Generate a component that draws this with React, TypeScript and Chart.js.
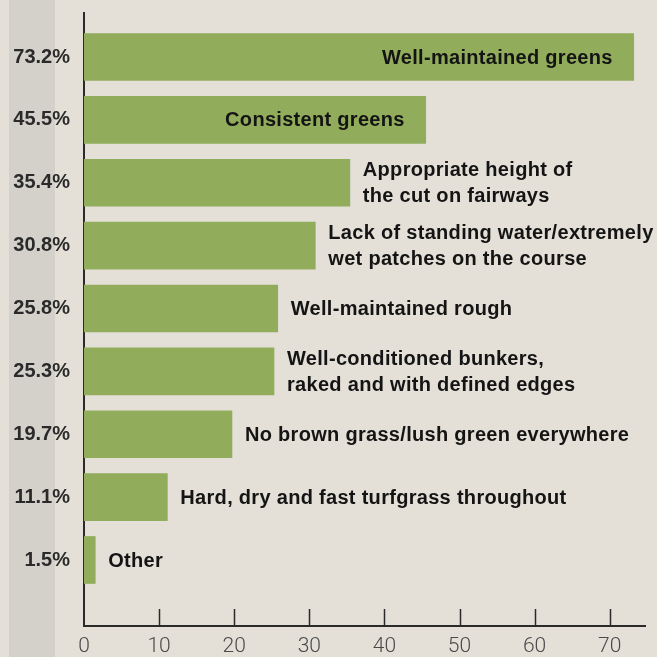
import React, { useEffect, useRef } from "react";
import { Chart, registerables } from "chart.js";

Chart.register(...registerables);

const categories: string[][] = [
  ["Well-maintained greens"],
  ["Consistent greens"],
  ["Appropriate height of", "the cut on fairways"],
  ["Lack of standing water/extremely", "wet patches on the course"],
  ["Well-maintained rough"],
  ["Well-conditioned bunkers,", "raked and with defined edges"],
  ["No brown grass/lush green everywhere"],
  ["Hard, dry and fast turfgrass throughout"],
  ["Other"],
];
const values: number[] = [73.2, 45.5, 35.4, 30.8, 25.8, 25.3, 19.7, 11.1, 1.5];
const percentLabels: string[] = values.map((v) => v.toFixed(1) + "%");
const xTicks: number[] = [0, 10, 20, 30, 40, 50, 60, 70];

const BG = "#e4e0d8";
const GREEN = "#91ad5b";
const AXIS = "#2a2a2a";
const LABEL_FONT = "bold 20px 'Liberation Sans', Arial, sans-serif";

const backgroundPlugin = {
  id: "bgPlugin",
  beforeDraw(chart: any) {
    const { ctx, width, height } = chart;
    ctx.save();
    ctx.fillStyle = BG;
    ctx.fillRect(0, 0, width, height);
    ctx.fillStyle = "#d4d1cb";
    ctx.fillRect(9, 0, 46, height);
    ctx.restore();
  },
};

const tickMarkPlugin = {
  id: "tickMarks",
  afterDraw(chart: any) {
    const { ctx } = chart;
    const xs = chart.scales.x;
    const bottom = chart.chartArea.bottom;
    ctx.save();
    ctx.strokeStyle = AXIS;
    ctx.lineWidth = 1.5;
    xs.ticks.forEach((t: any) => {
      if (t.value === 0) return;
      const px = Math.round(xs.getPixelForValue(t.value)) + 0.5;
      ctx.beginPath();
      ctx.moveTo(px, bottom);
      ctx.lineTo(px, bottom - 17);
      ctx.stroke();
    });
    ctx.restore();
  },
};

const barLabelPlugin = {
  id: "barLabels",
  afterDatasetsDraw(chart: any) {
    const { ctx } = chart;
    const meta = chart.getDatasetMeta(0);
    ctx.save();
    ctx.font = LABEL_FONT;
    try {
      (ctx as any).letterSpacing = "0.3px";
    } catch (e) {}
    ctx.fillStyle = "#141414";
    ctx.textBaseline = "middle";
    meta.data.forEach((bar: any, i: number) => {
      const lines = categories[i];
      const barWidth = bar.x - bar.base;
      const w = Math.max(...lines.map((l) => ctx.measureText(l).width));
      const inside = lines.length === 1 && w + 40 < barWidth;
      const lh = 26;
      const y0 = bar.y - ((lines.length - 1) * lh) / 2 + 1;
      lines.forEach((line, j) => {
        if (inside) {
          ctx.textAlign = "right";
          ctx.fillText(line, bar.x - 21, y0 + j * lh);
        } else {
          ctx.textAlign = "left";
          ctx.fillText(line, bar.x + 13, y0 + j * lh);
        }
      });
    });
    ctx.restore();
  },
};

export default function App() {
  const canvasRef = useRef<HTMLCanvasElement | null>(null);

  useEffect(() => {
    document.body.style.margin = "0";
    document.body.style.background = BG;
    const canvas = canvasRef.current;
    if (!canvas) return;
    const chart = new Chart(canvas, {
      type: "bar",
      data: {
        datasets: [
          {
            data: values.map((v, i) => ({ x: v, y: i })),
            backgroundColor: GREEN,
            borderWidth: 0,
            barThickness: 47,
          },
        ],
      },
      options: {
        indexAxis: "y",
        animation: false,
        responsive: false,
        maintainAspectRatio: false,
        layout: { padding: { top: 13, right: 12, bottom: 0, left: 0 } },
        plugins: {
          legend: { display: false },
          tooltip: { enabled: false },
        },
        scales: {
          x: {
            type: "linear",
            min: 0,
            max: 74.7,
            offset: false,
            grid: { display: false, drawTicks: false },
            border: { display: true, color: AXIS, width: 2 },
            afterBuildTicks: (scale: any) => {
              scale.ticks = xTicks.map((v) => ({ value: v }));
            },
            afterFit: (scale: any) => {
              scale.height = 31;
            },
            ticks: {
              padding: 8,
              color: "#4a4a4a",
              font: { family: "Roboto, 'Liberation Sans', sans-serif", size: 21, weight: "300" },
              maxRotation: 0,
              autoSkip: false,
            },
          },
          y: {
            type: "linear",
            reverse: true,
            offset: false,
            min: -0.7,
            max: 9.05,
            grid: { display: false, drawTicks: false },
            border: { display: true, color: AXIS, width: 2 },
            afterBuildTicks: (scale: any) => {
              scale.ticks = values.map((_, i) => ({ value: i }));
            },
            afterFit: (scale: any) => {
              scale.width = 84;
              scale.paddingTop = 0;
              scale.paddingBottom = 0;
            },
            ticks: {
              padding: 14,
              color: "#2a2a2a",
              font: { family: "'Liberation Sans', Arial, sans-serif", size: 20, weight: "bold" },
              autoSkip: false,
              callback: (v: any) => percentLabels[v as number] ?? "",
            },
          },
        },
      },
      plugins: [backgroundPlugin, tickMarkPlugin, barLabelPlugin],
    });
    return () => chart.destroy();
  }, []);

  return (
    <div style={{ position: "absolute", left: 0, top: 0, width: 657, height: 657, background: BG }}>
      <canvas ref={canvasRef} width={657} height={657} style={{ display: "block", width: 657, height: 657 }} />
    </div>
  );
}
